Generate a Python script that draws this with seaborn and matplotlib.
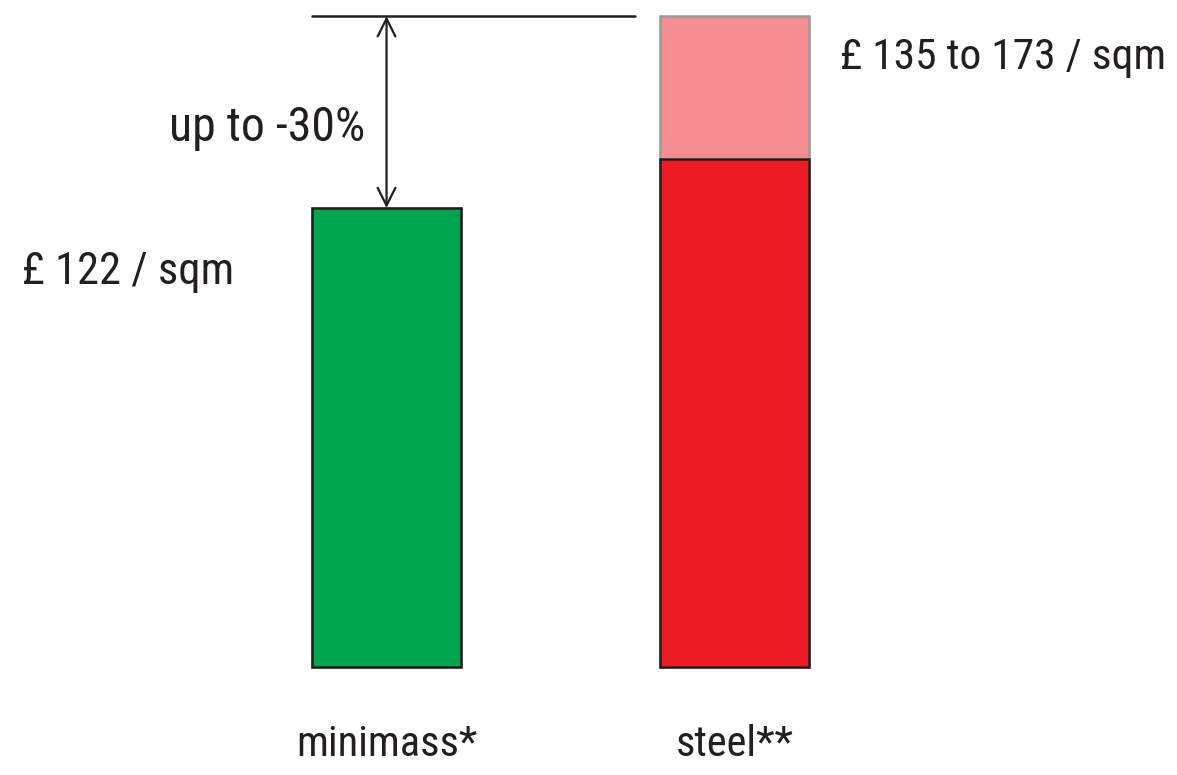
import numpy as np
import pandas as pd
import matplotlib
matplotlib.use("Agg")
import matplotlib.pyplot as plt
import seaborn as sns

categories = ['minimass*', 'steel**']
cost_low = [122, 135]    # £ / sqm, lower bound
cost_high = [122, 173]   # £ / sqm, upper bound
label_min = '£ 122 / sqm'
label_steel = '£ 135 to 173 / sqm'
label_saving = 'up to -30%'

sns.set_theme(style='white')
plt.rcParams['font.family'] = ['Roboto Condensed', 'DejaVu Sans Condensed',
                               'Liberation Sans Narrow', 'DejaVu Sans']

txt_col = '#231f20'
df = pd.DataFrame({'cat': categories, 'low': cost_low, 'high': cost_high})

fig = plt.figure(figsize=(11.77, 7.75), dpi=100)
ax = fig.add_axes([0, 0, 1, 1])

# upper range first, then the lower part on top of it
sns.barplot(data=df, x='cat', y='high', hue='cat', palette=['#00a54f', '#f58d91'],
            saturation=1, width=0.43, edgecolor='#999999', linewidth=1.8,
            legend=False, ax=ax)
sns.barplot(data=df, x='cat', y='low', hue='cat', palette=['#00a54f', '#ed1c24'],
            saturation=1, width=0.43, edgecolor=txt_col, linewidth=1.8,
            legend=False, ax=ax)

ax.set_xlim(-1.111, 2.272)
ax.set_ylim(-28.7, 177.3)
ax.axis('off')

# reference line at the top of the steel range + arrow down to minimass
ax.plot([-0.214, 0.714], [cost_high[1], cost_high[1]], color=txt_col, lw=1.8)
ax.annotate('', xy=(0, cost_low[0]), xytext=(0, cost_high[1]),
            arrowprops=dict(arrowstyle='<->', color=txt_col, lw=1.6,
                            mutation_scale=32, shrinkA=0, shrinkB=0))

ax.text(-1.047, 105, label_min, fontsize=32, color=txt_col, ha='left', va='center')
ax.text(-0.062, 143.3, label_saving, fontsize=34.5, color=txt_col, ha='right', va='center')
ax.text(1.303, 161.9, label_steel, fontsize=31.3, color=txt_col, ha='left', va='center')
for i, c in enumerate(categories):
    ax.text(i, -20.7, c, fontsize=30.5, color=txt_col, ha='center', va='center')

fig.savefig('out.png', dpi=100)
